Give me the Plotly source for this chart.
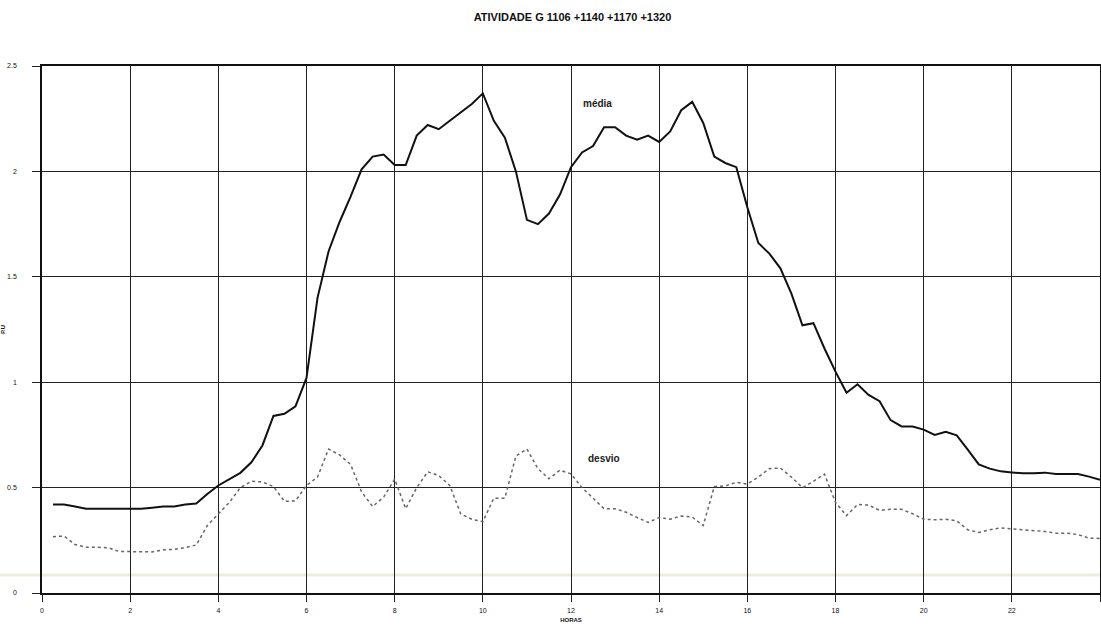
import plotly.graph_objects as go

hours = [i * 0.25 for i in range(1, 97)]

media = [
    0.42, 0.42, 0.41, 0.40, 0.40, 0.40, 0.40, 0.40,
    0.40, 0.405, 0.41, 0.41, 0.42, 0.425, 0.47, 0.51,
    0.54, 0.57, 0.62, 0.70, 0.84, 0.85, 0.885, 1.02,
    1.40, 1.62, 1.76, 1.88, 2.01, 2.07, 2.08, 2.03,
    2.03, 2.17, 2.22, 2.20, 2.24, 2.28, 2.32, 2.37,
    2.24, 2.16, 2.00, 1.77, 1.75, 1.80, 1.89, 2.02,
    2.09, 2.12, 2.21, 2.21, 2.17, 2.15, 2.17, 2.14,
    2.19, 2.29, 2.33, 2.23, 2.07, 2.04, 2.02, 1.83,
    1.66, 1.61, 1.54, 1.42, 1.27, 1.28, 1.16, 1.05,
    0.95, 0.99, 0.94, 0.91, 0.82, 0.79, 0.79, 0.775,
    0.75, 0.765, 0.748, 0.68, 0.61, 0.59, 0.577, 0.572,
    0.568, 0.568, 0.571, 0.565, 0.563, 0.564, 0.552, 0.537,
]

desvio = [
    0.267, 0.27, 0.23, 0.217, 0.217, 0.215, 0.197, 0.197,
    0.195, 0.195, 0.205, 0.207, 0.215, 0.228, 0.32, 0.375,
    0.43, 0.50, 0.53, 0.527, 0.505, 0.435, 0.437, 0.51,
    0.55, 0.683, 0.655, 0.61, 0.48, 0.41, 0.455, 0.54,
    0.40, 0.50, 0.575, 0.557, 0.51, 0.375, 0.35, 0.338,
    0.45, 0.45, 0.65, 0.683, 0.59, 0.542, 0.583, 0.565,
    0.50, 0.45, 0.40, 0.40, 0.383, 0.358, 0.335, 0.358,
    0.35, 0.365, 0.36, 0.32, 0.505, 0.508, 0.525, 0.517,
    0.55, 0.59, 0.593, 0.55, 0.50, 0.53, 0.564, 0.43,
    0.367, 0.42, 0.417, 0.392, 0.397, 0.397, 0.376, 0.35,
    0.347, 0.35, 0.342, 0.30, 0.287, 0.30, 0.309, 0.304,
    0.30, 0.297, 0.292, 0.284, 0.284, 0.277, 0.26, 0.259,
]

x_ticks = [0, 2, 4, 6, 8, 10, 12, 14, 16, 18, 20, 22, 24]
y_ticks = [0, 0.5, 1, 1.5, 2, 2.5]
y_tick_text = ["0", "0.5", "1", "1.5", "2", "2.5"]

title_text = "ATIVIDADE G 1106 +1140 +1170 +1320"
label_media = "média"
label_desvio = "desvio"

fig = go.Figure()
fig.add_trace(go.Scatter(x=hours, y=media, mode="lines", name=label_media,
                         line=dict(color="#111111", width=2)))
fig.add_trace(go.Scatter(x=hours, y=desvio, mode="lines", name=label_desvio,
                         line=dict(color="#666666", width=1.5, dash="dot")))

# faint scan band
fig.add_shape(type="line", xref="paper", yref="y", x0=-0.05, x1=1.0, y0=0.085, y1=0.085,
              line=dict(color="#eeecdf", width=3), layer="below")

fig.add_annotation(x=12.6, y=2.32, text="<b>" + label_media + "</b>", showarrow=False,
                   font=dict(family="Liberation Sans, Arial", size=10, color="#222"))
fig.add_annotation(x=12.75, y=0.64, text="<b>" + label_desvio + "</b>", showarrow=False,
                   font=dict(family="Liberation Sans, Arial", size=10, color="#222"))

fig.update_layout(
    width=1101, height=628,
    margin=dict(l=42, r=1, t=66, b=35),
    paper_bgcolor="white", plot_bgcolor="white",
    showlegend=False,
    title=dict(text="<b>" + title_text + "</b>", x=0.52, xanchor="center", y=0.973, yanchor="middle",
               font=dict(family="Liberation Sans, Arial", size=11, color="#111")),
    font=dict(family="Liberation Sans, Arial", size=7, color="#111"),
)
fig.update_xaxes(range=[0, 24], tickvals=x_ticks, ticks="outside", ticklen=7, tickwidth=1.3,
                 tickcolor="#222", showgrid=True, gridcolor="#222", gridwidth=1.4,
                 showline=True, linecolor="#111", linewidth=1.6, mirror=True, zeroline=False,
                 tickfont=dict(size=7), fixedrange=True, automargin=False, ticklabelstandoff=3,
                 title=dict(text="<b>HORAS</b>", font=dict(size=6), standoff=5))
fig.update_yaxes(range=[0, 2.5], tickvals=y_ticks, ticktext=y_tick_text, ticks="outside", ticklen=8,
                 tickwidth=1.3, tickcolor="#222", showgrid=True, gridcolor="#222", gridwidth=1.4,
                 showline=True, linecolor="#111", linewidth=1.6, mirror=True, zeroline=False,
                 tickfont=dict(size=7), ticklabelstandoff=14, automargin=False,
                 title=dict(text="<b>P.U</b>", font=dict(size=6), standoff=2))

fig.write_html("out.html", config={"displayModeBar": False},
               post_script="document.body.style.margin='0';document.body.style.overflow='hidden';")
